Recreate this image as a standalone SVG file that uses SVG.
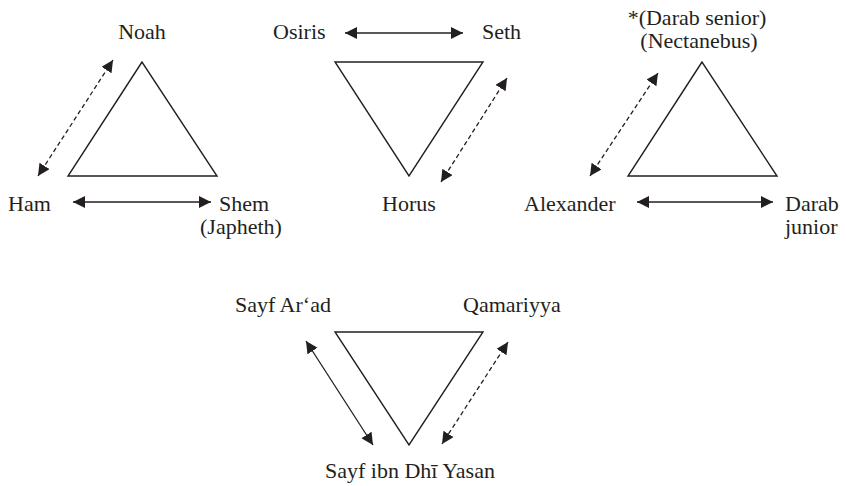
<svg xmlns="http://www.w3.org/2000/svg" width="846" height="486" viewBox="0 0 846 486">
  <style>
    text { font-family: "Liberation Serif", "DejaVu Serif", serif; font-size: 22px; fill: #231f20; }
    .tri { fill: none; stroke: #231f20; stroke-width: 1.4; stroke-linejoin: miter; }
    .link { fill: none; stroke: #231f20; stroke-width: 1.3; marker-start: url(#head); marker-end: url(#head); }
    .dashed { stroke-dasharray: 4.5 3; }
    .mid { text-anchor: middle; }
  </style>
  <defs>
    <marker id="head" markerUnits="userSpaceOnUse" markerWidth="14" markerHeight="14" refX="12" refY="6" orient="auto-start-reverse">
      <path d="M0,0 L12,6 L0,12 z" fill="#231f20"/>
    </marker>
  </defs>

  <rect width="846" height="486" fill="#ffffff"/>

  <!-- Noah / Ham / Shem -->
  <g id="triad-noah">
    <polygon class="tri" points="142,62 68,176 217,176"/>
    <text class="mid" x="142" y="39">Noah</text>
    <text x="8" y="211">Ham</text>
    <text x="219" y="211">Shem</text>
    <text x="200" y="234">(Japheth)</text>
  </g>

  <!-- Osiris / Seth / Horus -->
  <g id="triad-osiris">
    <polygon class="tri" points="335,62 483,62 409,176"/>
    <text x="273" y="39">Osiris</text>
    <text x="482" y="39">Seth</text>
    <text class="mid" x="409" y="211">Horus</text>
  </g>

  <!-- Darab senior / Alexander / Darab junior -->
  <g id="triad-darab">
    <polygon class="tri" points="702,62 628,176 777,176"/>
    <text class="mid" x="697" y="25">*(Darab senior)</text>
    <text class="mid" x="699" y="48">(Nectanebus)</text>
    <text x="524" y="211">Alexander</text>
    <text x="785" y="211">Darab</text>
    <text x="785" y="234">junior</text>
  </g>

  <!-- Sayf Ar'ad / Qamariyya / Sayf ibn Dhi Yasan -->
  <g id="triad-sayf">
    <polygon class="tri" points="335,332 483,332 409,445"/>
    <text x="235" y="312">Sayf Ar‘ad</text>
    <text x="463" y="312">Qamariyya</text>
    <text class="mid" x="410" y="478">Sayf ibn Dhī Yasan</text>
  </g>

  <g id="connectors">
    <line class="link dashed" x1="113" y1="60" x2="38" y2="176"/>
    <line class="link" x1="73" y1="202" x2="211" y2="202"/>
    <line class="link" x1="345" y1="33" x2="463" y2="33"/>
    <line class="link dashed" x1="507" y1="78" x2="441" y2="182"/>
    <line class="link dashed" x1="658" y1="73" x2="590" y2="176"/>
    <line class="link" x1="637" y1="202" x2="773" y2="202"/>
    <line class="link" x1="306" y1="341" x2="373" y2="445"/>
    <line class="link dashed" x1="508" y1="342" x2="442" y2="444"/>
  </g>
</svg>
